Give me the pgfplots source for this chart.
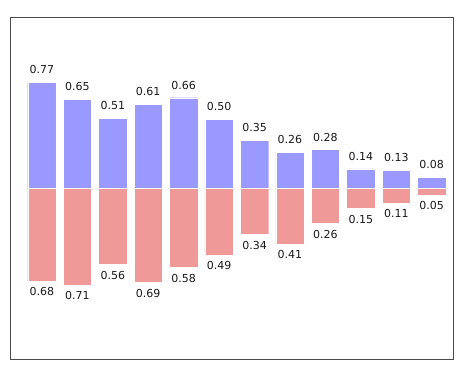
\documentclass[border=0pt]{standalone}
\usepackage{pgfplots}
\pgfplotsset{compat=1.18}
\usepackage{fontspec}
\setmainfont{DejaVu Sans}
\definecolor{bblue}{HTML}{9999FF}
\definecolor{rred}{HTML}{F09999}
\begin{document}
\begin{tikzpicture}
\begin{axis}[
  scale only axis, width=443pt, height=342pt,
  xmin=-0.5, xmax=12, ymin=-1.25, ymax=1.25,
  xtick=\empty, ytick=\empty,
  axis line style={draw=black!70, line width=0.8pt},
  ybar, bar width=0.8, bar shift=0pt,
  point meta=explicit symbolic,
  nodes near coords={\pgfplotspointmeta},
  every node near coord/.append style={font=\fontsize{11}{13}\selectfont, color=black!90},
]
\addplot[fill=bblue, draw=white, nodes near coords style={anchor=south, yshift=5pt}] coordinates {
(0.4,0.77) [0.77] (1.4,0.65) [0.65] (2.4,0.51) [0.51] (3.4,0.61) [0.61]
(4.4,0.66) [0.66] (5.4,0.50) [0.50] (6.4,0.35) [0.35] (7.4,0.26) [0.26]
(8.4,0.28) [0.28] (9.4,0.14) [0.14] (10.4,0.13) [0.13] (11.4,0.08) [0.08]
};
\addplot[fill=rred, draw=white, nodes near coords style={anchor=north, yshift=-3pt}] coordinates {
(0.4,-0.68) [0.68] (1.4,-0.71) [0.71] (2.4,-0.56) [0.56] (3.4,-0.69) [0.69]
(4.4,-0.58) [0.58] (5.4,-0.49) [0.49] (6.4,-0.34) [0.34] (7.4,-0.41) [0.41]
(8.4,-0.26) [0.26] (9.4,-0.15) [0.15] (10.4,-0.11) [0.11] (11.4,-0.05) [0.05]
};
\end{axis}
\path (-10pt,-9pt) rectangle (456pt,359pt);
\end{tikzpicture}
\end{document}
